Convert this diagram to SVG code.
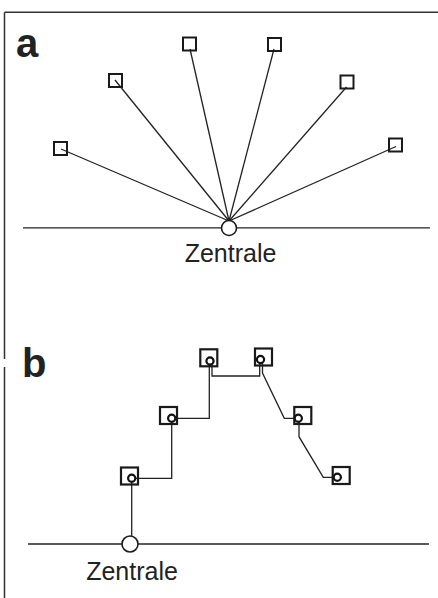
<svg xmlns="http://www.w3.org/2000/svg" width="438" height="598" viewBox="0 0 438 598">
<style>
.ln{stroke:#222;stroke-width:1.3;fill:none}
.frame{stroke:#333;stroke-width:1.5;fill:none}
.sq{stroke:#1a1a1a;stroke-width:2;fill:none}
.sqb{stroke:#1a1a1a;stroke-width:2.2;fill:none}
.ctr{stroke:#1a1a1a;stroke-width:1.6;fill:#fff}
.sc{stroke:#111;stroke-width:2.2;fill:#fff}
.lbl{font-family:"Liberation Sans",Arial,sans-serif;font-size:25px;fill:#222}
.big{font-family:"Liberation Sans",Arial,sans-serif;font-size:40px;font-weight:bold;fill:#222}
</style>
<rect width="438" height="598" fill="#fff"/>
<g id="frame">
<path class="frame" d="M4.5 12.3 H438 M4.5 12.3 V359 M4.5 367 V598"/>
</g>
<g id="labels">
<text class="big" x="16" y="57">a</text>
<text class="big" x="22" y="377">b</text>
</g>
<g id="connectors">
<line class="ln" x1="61" y1="149" x2="229" y2="221"/>
<line class="ln" x1="115" y1="80" x2="229" y2="221"/>
<line class="ln" x1="190" y1="49" x2="229" y2="221"/>
<line class="ln" x1="274" y1="49" x2="229" y2="221"/>
<line class="ln" x1="346.5" y1="87" x2="229" y2="221"/>
<line class="ln" x1="396" y1="146.5" x2="229" y2="221"/>
<line class="ln" x1="23" y1="227.8" x2="430" y2="227.8"/>
<line class="ln" x1="28" y1="544" x2="429" y2="544"/>
<path class="ln" d="M131.7 536 V482"/>
<path class="ln" d="M135 478.3 H171.7 V422"/>
<path class="ln" d="M175 418.3 H209.3 V365"/>
<path class="ln" d="M212 364 V376 H259.7 V363"/>
<path class="ln" d="M262.5 363 V373 L284.3 418.3 H295"/>
<path class="ln" d="M299 422 V436.7 L323.3 477.3 H334"/>
</g>
<g id="a-node-1"><rect class="sq" x="54" y="142" width="13" height="13"/></g>
<g id="a-node-2"><rect class="sq" x="109" y="74" width="13" height="13"/></g>
<g id="a-node-3"><rect class="sq" x="183" y="37.5" width="13" height="13"/></g>
<g id="a-node-4"><rect class="sq" x="268" y="38" width="13" height="13"/></g>
<g id="a-node-5"><rect class="sq" x="340.5" y="75.5" width="13" height="13"/></g>
<g id="a-node-6"><rect class="sq" x="389" y="138.5" width="13" height="13"/></g>
<g id="a-zentrale">
<circle class="ctr" cx="229" cy="228" r="7.5"/>
<text class="lbl" x="230.5" y="262" text-anchor="middle">Zentrale</text>
</g>
<g id="b-node-1"><rect class="sqb" x="121" y="467.5" width="17" height="17"/><circle class="sc" cx="131.7" cy="478.3" r="3.6"/></g>
<g id="b-node-2"><rect class="sqb" x="160" y="407" width="17" height="17"/><circle class="sc" cx="171.7" cy="418.3" r="3.6"/></g>
<g id="b-node-3"><rect class="sqb" x="200.3" y="349.3" width="17" height="17"/><circle class="sc" cx="210" cy="361" r="3.6"/></g>
<g id="b-node-4"><rect class="sqb" x="255" y="348.5" width="17" height="17"/><circle class="sc" cx="260.5" cy="359.5" r="3.6"/></g>
<g id="b-node-5"><rect class="sqb" x="294.3" y="407" width="17" height="17"/><circle class="sc" cx="298.3" cy="418.3" r="3.6"/></g>
<g id="b-node-6"><rect class="sqb" x="332.7" y="467" width="17" height="17"/><circle class="sc" cx="337.3" cy="477.3" r="3.6"/></g>
<g id="b-zentrale">
<circle class="ctr" cx="130" cy="544" r="8"/>
<text class="lbl" x="132" y="580" text-anchor="middle">Zentrale</text>
</g>
</svg>
